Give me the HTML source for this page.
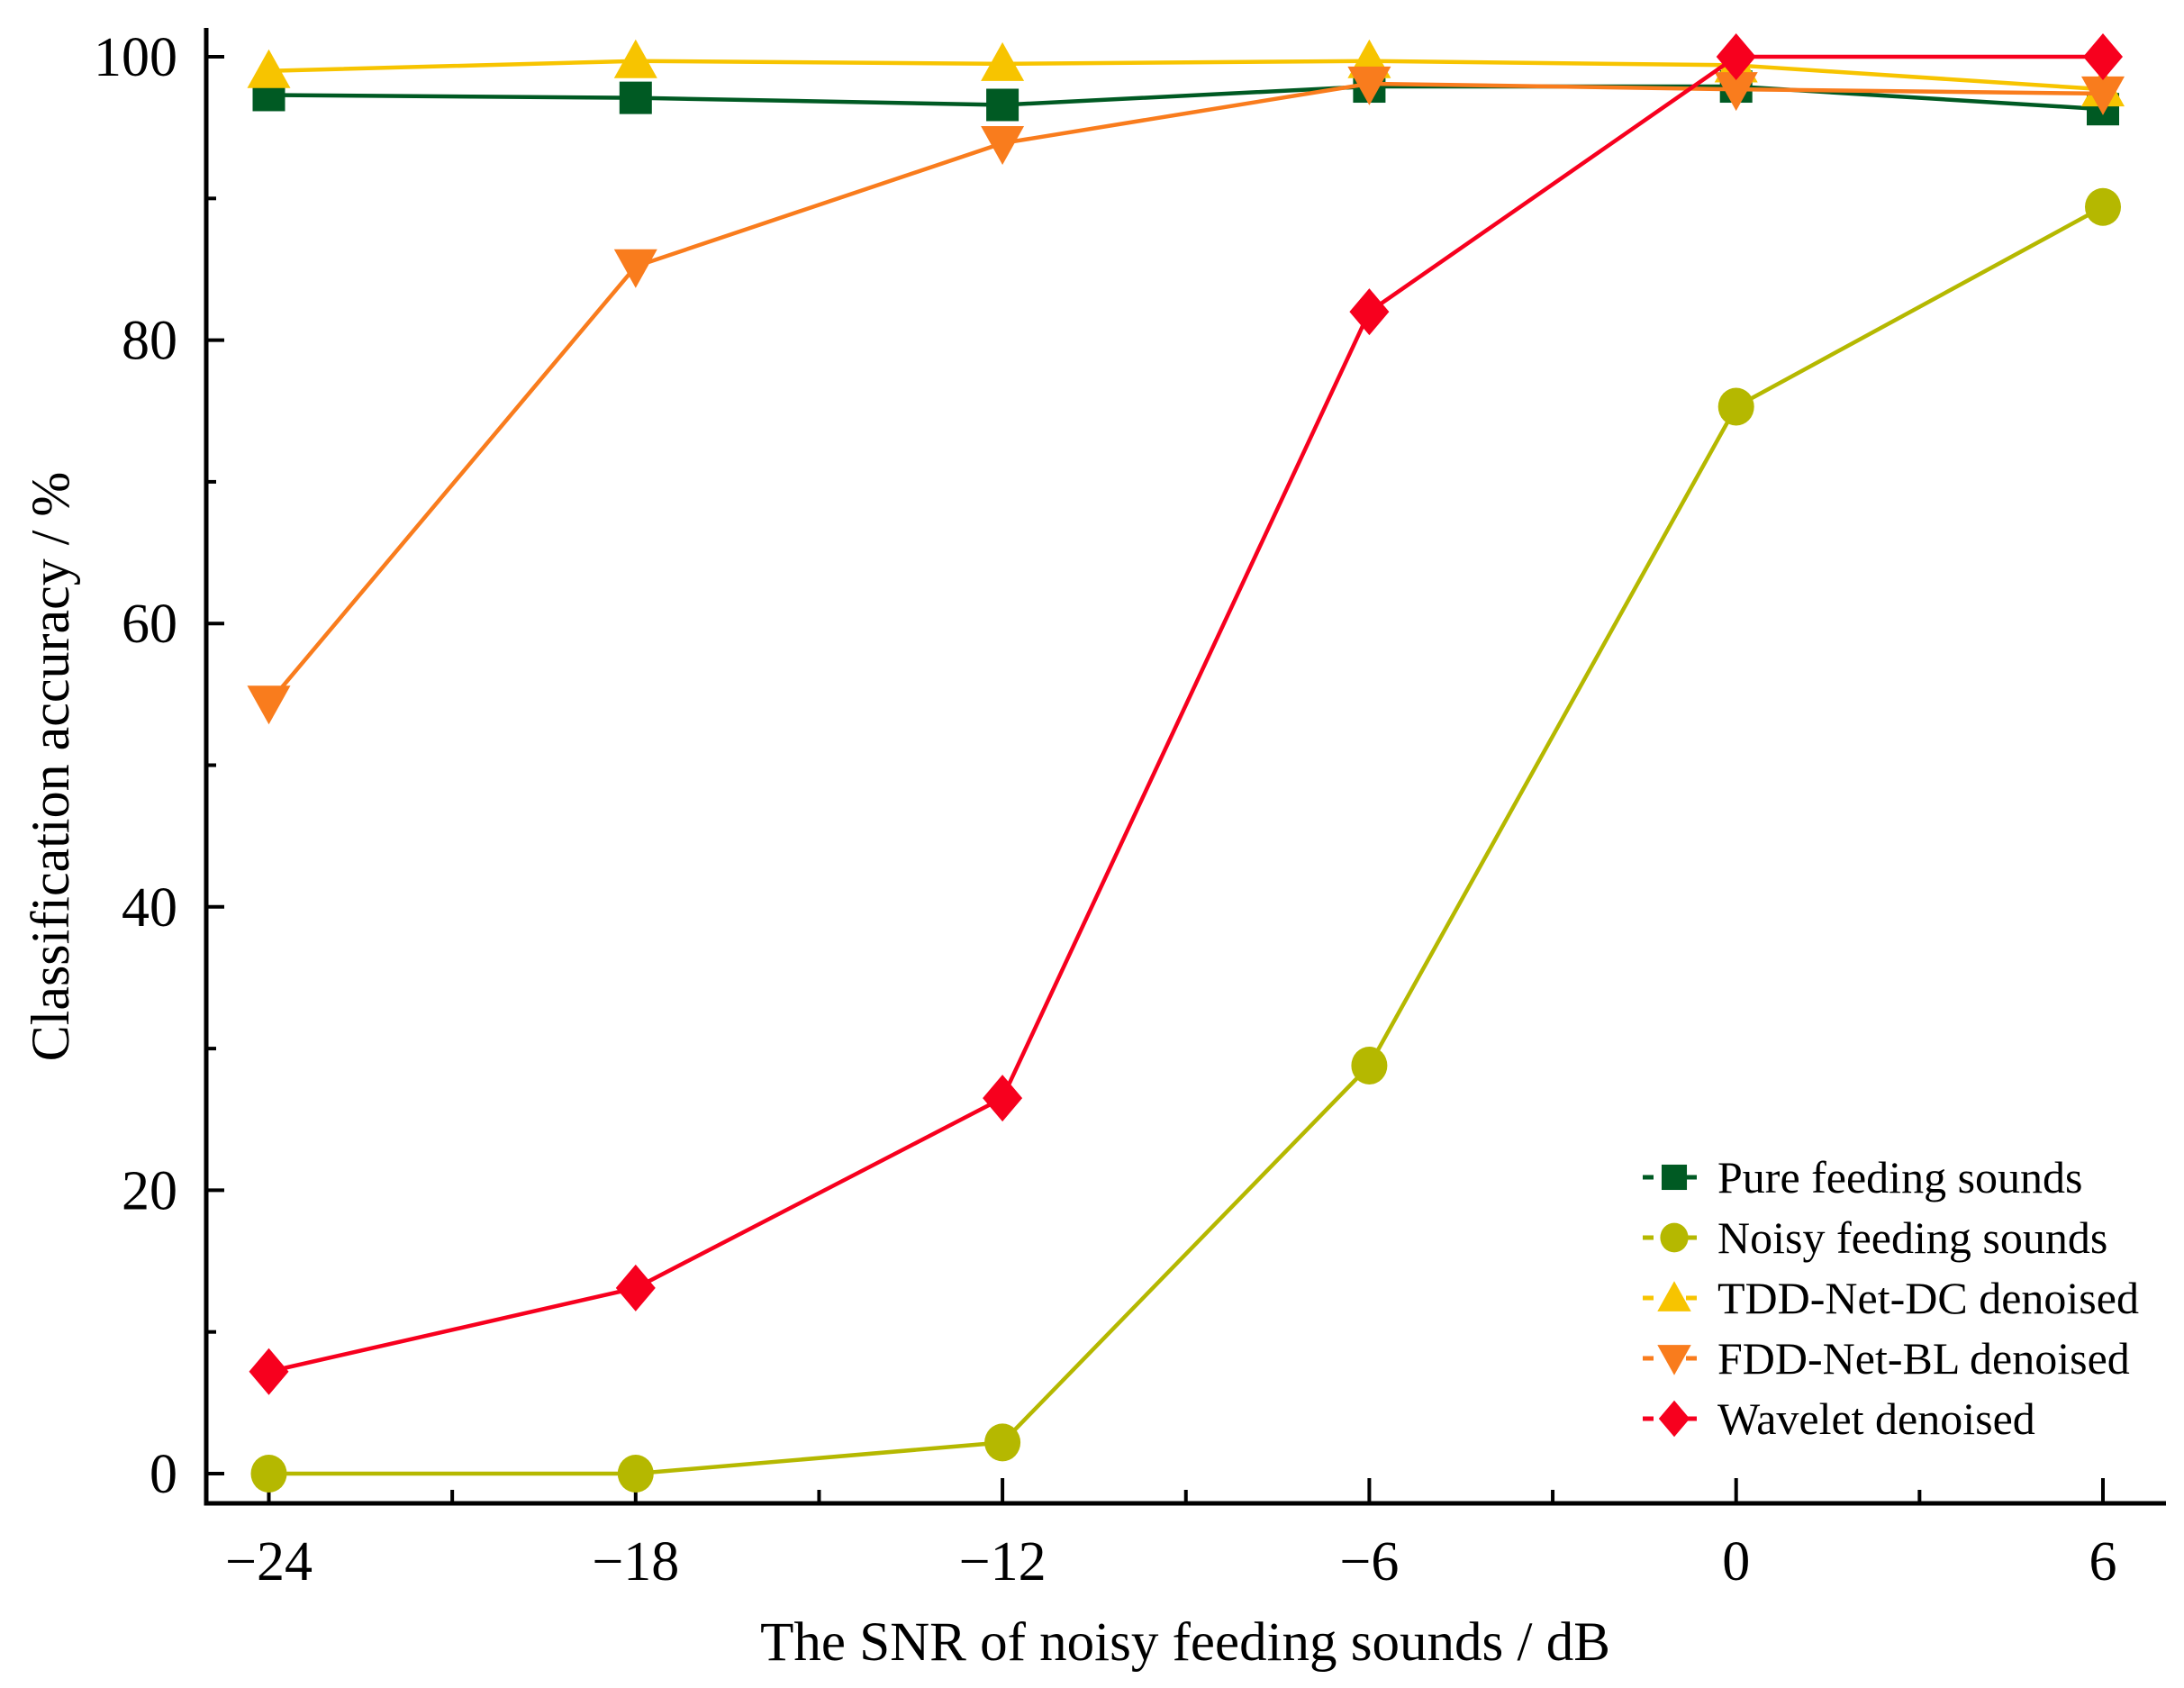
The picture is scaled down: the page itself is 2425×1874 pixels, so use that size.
<!DOCTYPE html>
<html><head><meta charset="utf-8"><style>
html,body{margin:0;padding:0;background:#fff;}
svg{display:block;font-family:"Liberation Serif",serif;}
</style></head><body>
<svg id="chart" width="2425" height="1874" viewBox="0 0 2425 1874" xmlns="http://www.w3.org/2000/svg">
<g id="axes"></g>
<g id="series"></g>
<g id="legend"></g>
<text x="1316" y="1843" font-size="61" text-anchor="middle">The SNR of noisy feeding sounds / dB</text>
<text transform="translate(76,851) rotate(-90)" font-size="60" text-anchor="middle">Classification accuracy / %</text>
</svg>
<script>
const categories = [-24, -18, -12, -6, 0, 6];
const pure = [97.3, 97.1, 96.6, 97.9, 97.9, 96.3];
const noisy = [0, 0, 2.2, 28.8, 75.3, 89.4];
const tdd = [99.0, 99.7, 99.5, 99.7, 99.4, 97.7];
const fdd = [54.4, 85.2, 93.9, 98.1, 97.7, 97.4];
const wavelet = [7.2, 13.1, 26.5, 82.0, 100, 100];
const yTicks = [0, 20, 40, 60, 80, 100];
const xTickLabels = ["\u221224", "\u221218", "\u221212", "\u22126", "0", "6"];
const seriesNames = ["Pure feeding sounds", "Noisy feeding sounds", "TDD-Net-DC denoised", "FDD-Net-BL denoised", "Wavelet denoised"];

const NS = "http://www.w3.org/2000/svg";
const L = 229, R = 2405, B = 1669, T = 31;
function xs(v){ return 298.5 + (v + 24) * (2036.5 / 30); }
function ys(v){ return 1636 - v * 15.73; }
function mk(tag, attrs, parent){ const e = document.createElementNS(NS, tag); for (const k in attrs) e.setAttribute(k, attrs[k]); parent.appendChild(e); return e; }

const axes = document.getElementById('axes');
let e;
e = mk('path', {d:`M${L},${T} L${L},${B} L${R},${B}`, fill:'none', stroke:'#000', 'stroke-width':5}, axes);


for (let v = 0; v <= 100; v += 10) {
  const major = v % 20 === 0;
  e = mk('line', {x1:L, x2:L + (major ? 20 : 11), y1:ys(v), y2:ys(v), stroke:'#000', 'stroke-width':4}, axes);
  
  
}
yTicks.forEach(v => {
  e = mk('text', {x:197, y:ys(v) + 21, 'font-size':62, 'text-anchor':'end'}, axes);
  e.textContent = v;
  
  
});
for (let v = -24; v <= 6; v += 3) {
  const major = v % 6 === 0;
  e = mk('line', {x1:xs(v), x2:xs(v), y1:B, y2:B - (major ? 28 : 15), stroke:'#000', 'stroke-width':4}, axes);
  
  
}
categories.forEach((c, i) => {
  e = mk('text', {x:xs(c), y:1754, 'font-size':62, 'text-anchor':'middle'}, axes);
  e.textContent = xTickLabels[i];
  
  
});

const colors = ['#005a23', '#b5b800', '#f7c400', '#f97c1d', '#f7001e'];
const shapes = ['square', 'circle', 'up', 'down', 'diamond'];
const data = [pure, noisy, tdd, fdd, wavelet];
function marker(shape, cx, cy, color, parent, s){
  s = s || 1;
  if (shape === 'square') return mk('rect', {x:cx-18*s, y:cy-18*s, width:36*s, height:36*s, fill:color}, parent);
  if (shape === 'circle') return mk('ellipse', {cx:cx, cy:cy, rx:20*s, ry:21*s, fill:color}, parent);
  if (shape === 'up') return mk('path', {d:`M${cx},${cy-24*s} L${cx+24*s},${cy+19*s} L${cx-24*s},${cy+19*s}Z`, fill:color}, parent);
  if (shape === 'down') return mk('path', {d:`M${cx},${cy+24*s} L${cx+24*s},${cy-19*s} L${cx-24*s},${cy-19*s}Z`, fill:color}, parent);
  return mk('path', {d:`M${cx},${cy-26*s} L${cx+22*s},${cy} L${cx},${cy+26*s} L${cx-22*s},${cy}Z`, fill:color}, parent);
}
const sg = document.getElementById('series');
data.forEach((vals, si) => {
  const g = mk('g', {}, sg);
  
  
  const pts = vals.map((v, i) => xs(categories[i]) + ',' + ys(v)).join(' ');
  e = mk('polyline', {points:pts, fill:'none', stroke:colors[si], 'stroke-width':4.5}, g);
  
  
  vals.forEach((v, i) => {
    e = marker(shapes[si], xs(categories[i]), ys(v), colors[si], g);
    
    
  });
});

const lg = document.getElementById('legend');
seriesNames.forEach((n, i) => {
  const y = 1307 + i * 67;
  const g = mk('g', {}, lg);
  
  
  mk('line', {x1:1824, x2:1836, y1:y, y2:y, stroke:colors[i], 'stroke-width':5}, g);
  mk('line', {x1:1872, x2:1884, y1:y, y2:y, stroke:colors[i], 'stroke-width':5}, g);
  marker(shapes[i], 1859, y, colors[i], g, 0.78);
  e = mk('text', {x:1907, y:y + 17, 'font-size':50}, g);
  e.textContent = n;
  
  
});
</script>
</body></html>
